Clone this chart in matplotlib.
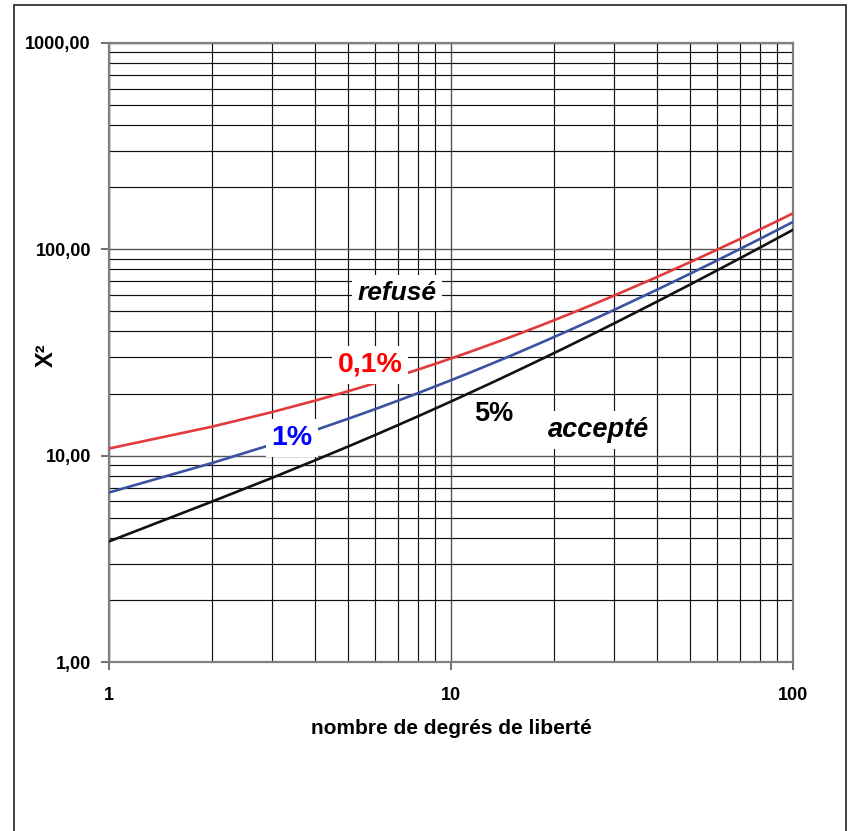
import matplotlib
matplotlib.use("Agg")
import matplotlib.pyplot as plt
from matplotlib.patches import Rectangle
from matplotlib.ticker import FixedLocator, FuncFormatter, NullFormatter

plt.rcParams['font.family'] = ['Liberation Sans', 'DejaVu Sans']

# degrees of freedom
ddl = list(range(1, 31)) + [40, 50, 60, 70, 80, 90, 100]

# critical chi-square values
chi2_5 = [3.84, 5.99, 7.81, 9.49, 11.07, 12.59, 14.07, 15.51, 16.92, 18.31,
          19.68, 21.03, 22.36, 23.68, 25.00, 26.30, 27.59, 28.87, 30.14, 31.41,
          32.67, 33.92, 35.17, 36.42, 37.65, 38.89, 40.11, 41.34, 42.56, 43.77,
          55.76, 67.50, 79.08, 90.53, 101.88, 113.15, 124.34]
chi2_1 = [6.63, 9.21, 11.34, 13.28, 15.09, 16.81, 18.48, 20.09, 21.67, 23.21,
          24.72, 26.22, 27.69, 29.14, 30.58, 32.00, 33.41, 34.81, 36.19, 37.57,
          38.93, 40.29, 41.64, 42.98, 44.31, 45.64, 46.96, 48.28, 49.59, 50.89,
          63.69, 76.15, 88.38, 100.43, 112.33, 124.12, 135.81]
chi2_01 = [10.83, 13.82, 16.27, 18.47, 20.52, 22.46, 24.32, 26.12, 27.88, 29.59,
           31.26, 32.91, 34.53, 36.12, 37.70, 39.25, 40.79, 42.31, 43.82, 45.31,
           46.80, 48.27, 49.73, 51.18, 52.62, 54.05, 55.48, 56.89, 58.30, 59.70,
           73.40, 86.66, 99.61, 112.32, 124.84, 137.21, 149.45]

x_ticks = [1, 10, 100]
y_ticks = [1, 10, 100, 1000]

W, H = 849, 831
fig = plt.figure(figsize=(W / 100, H / 100), dpi=100)
fig.patch.set_facecolor('white')

# outer frame
fig.patches.append(Rectangle((14 / W, -0.01), (846 - 14) / W, 1.01 - 5 / H,
                             transform=fig.transFigure, fill=False,
                             edgecolor='#222222', linewidth=1.2))

ax = fig.add_axes([109 / W, 1 - 662 / H, (793 - 109) / W, (662 - 43) / H])
ax.set_xscale('log')
ax.set_yscale('log')
ax.set_xlim(1, 100)
ax.set_ylim(1, 1000)

ax.xaxis.set_major_locator(FixedLocator(x_ticks))
ax.yaxis.set_major_locator(FixedLocator(y_ticks))
minors_x = [m * d for d in (1, 10) for m in range(2, 10)]
minors_y = [m * d for d in (1, 10, 100) for m in range(2, 10)]
ax.xaxis.set_minor_locator(FixedLocator(minors_x))
ax.yaxis.set_minor_locator(FixedLocator(minors_y))
ax.xaxis.set_minor_formatter(NullFormatter())
ax.yaxis.set_minor_formatter(NullFormatter())
ax.xaxis.set_major_formatter(FuncFormatter(lambda v, p: f"{v:g}"))
ax.yaxis.set_major_formatter(FuncFormatter(lambda v, p: f"{v:.2f}".replace('.', ',')))

ax.grid(True, which='major', color='#555555', linewidth=1.0)
ax.grid(True, which='minor', color='#111111', linewidth=0.85)
ax.set_axisbelow(True)

for s in ax.spines.values():
    s.set_color('#808080')
    s.set_linewidth(1.6)

ax.tick_params(which='major', direction='out', length=6, width=1.2, color='#555555',
               labelsize=13, pad=7)
ax.tick_params(which='minor', length=0)
for lab in ax.get_xticklabels() + ax.get_yticklabels():
    lab.set_fontweight('bold')
ax.tick_params(axis='x', pad=12)

ax.plot(ddl, chi2_01, color='#E23A3A', linewidth=1.9, zorder=3)
ax.plot(ddl, chi2_1, color='#3A52A0', linewidth=1.9, zorder=3)
ax.plot(ddl, chi2_5, color='#111111', linewidth=1.9, zorder=3)

box = dict(facecolor='white', edgecolor='none', pad=4)

def place(px, py, txt, **kw):
    fig.text(px / W, 1 - py / H, txt, ha='center', va='center', zorder=5, **kw)

place(397, 293, 'refusé', fontsize=19, fontweight='bold', style='italic',
      color='black', bbox=box)
place(370, 365, '0,1%', fontsize=20.5, fontweight='bold', color='#FF0000', bbox=box)
place(292, 438, '1%', fontsize=20.5, fontweight='bold', color='#0000FF', bbox=box)
place(494, 414, '5%', fontsize=19.5, fontweight='bold', color='black', bbox=box)
place(598, 430, 'accepté', fontsize=19.5, fontweight='bold', style='italic',
      color='black', bbox=box)

fig.text(46 / W, 1 - 355 / H, 'X²', rotation=90, ha='center', va='center',
         fontsize=17, fontweight='bold')
fig.text(451 / W, 1 - 728 / H, 'nombre de degrés de liberté', ha='center',
         va='center', fontsize=15, fontweight='bold')

fig.savefig('out.png', dpi=100)
